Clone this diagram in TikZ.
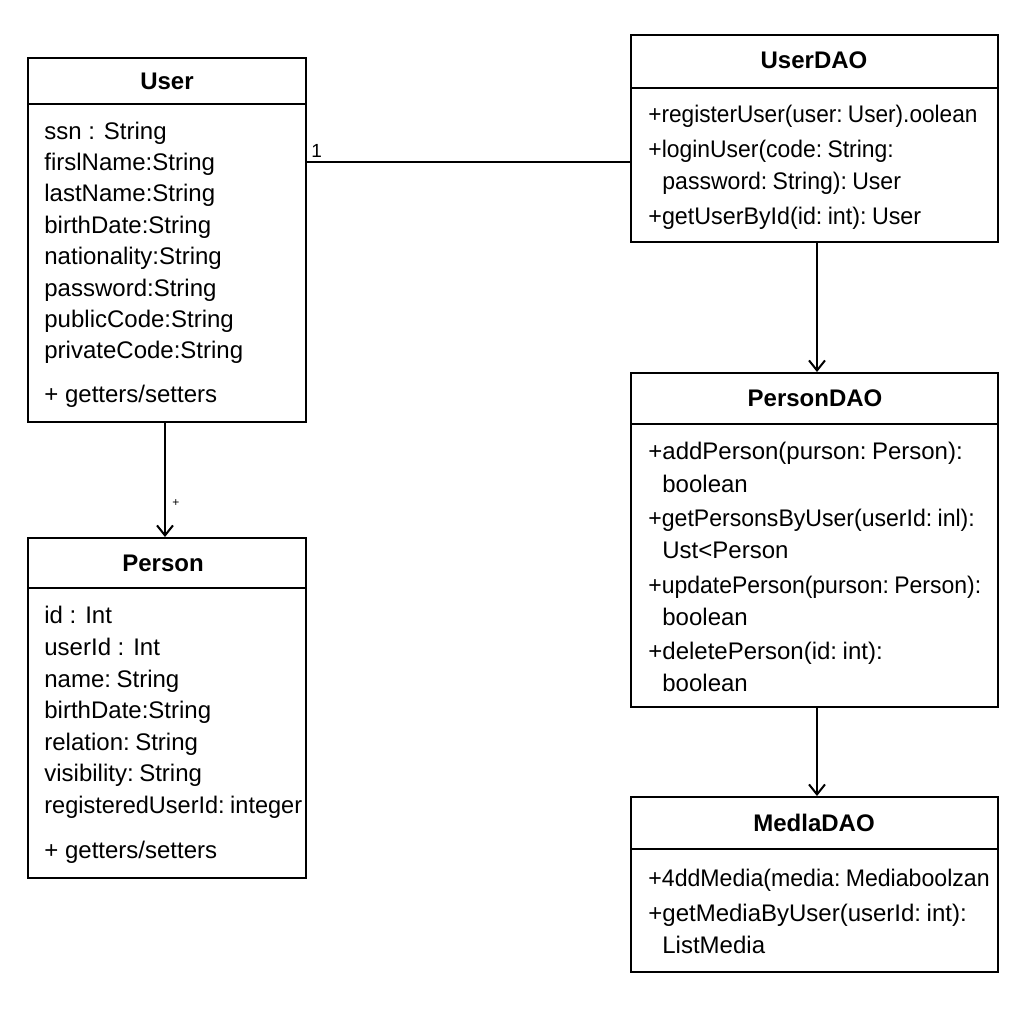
\documentclass[tikz,border=0pt]{standalone}
\usepackage{graphicx}
\usepackage{fontspec}
\setmainfont{Liberation Sans}
% same face with tighter word spaces, for method signatures
\newfontfamily\tightsp{Liberation Sans}[WordSpace=0.5]
\usetikzlibrary{arrows.meta,fit}
% slightly condensed member text
\newcommand\tight[2]{\scalebox{#1}[1]{#2}}
\begin{document}
\begin{tikzpicture}[x=0.5pt,y=-0.5pt,
  classbox/.style={draw,line width=1pt,inner sep=0pt},
  ctitle/.style={anchor=base,font=\fontsize{12}{14}\selectfont\bfseries,inner sep=0pt},
  member/.style={anchor=base west,font=\fontsize{12}{14}\selectfont,inner sep=0pt},
  method/.style={anchor=base west,font=\fontsize{12}{14}\selectfont\tightsp,inner sep=0pt},
  sep/.style={line width=1pt},
  link/.style={line width=1pt},
  assoc/.style={line width=1pt,-{Straight Barb[length=5pt,width=8pt,line width=1pt]}},
  mult/.style={inner sep=0pt}]
\useasboundingbox (0,0) rectangle (1024,1024);

% corner points of the class boxes
\coordinate (userA) at (28,58);    \coordinate (userB) at (306,422);
\coordinate (personA) at (28,538); \coordinate (personB) at (306,878);
\coordinate (udaoA) at (631,35);   \coordinate (udaoB) at (998,242);
\coordinate (pdaoA) at (631,373);  \coordinate (pdaoB) at (998,707);
\coordinate (mdaoA) at (631,797);  \coordinate (mdaoB) at (998,972);

% ---- User ----
\node[classbox,fit=(userA)(userB)] (user) {};
\coordinate (userS) at (0,104);
\draw[sep] (user.west |- userS) -- (user.east |- userS);
\node[ctitle] (userT) at (167,89) {User};
\node[member] (u1) at (44,139) {ssn : String};
\node[member] (u2) at (44,170) {firslName:String};
\node[member] (u3) at (44,201) {lastName:String};
\node[member] (u4) at (44,233) {birthDate:String};
\node[member] (u5) at (44,264) {nationality:String};
\node[member] (u6) at (44,296) {password:String};
\node[member] (u7) at (44,327) {publicCode:String};
\node[member] (u8) at (44,358) {privateCode:String};
\node[member] (u9) at (44,402) {+ getters/setters};

% ---- Person ----
\node[classbox,fit=(personA)(personB)] (person) {};
\coordinate (personS) at (0,588);
\draw[sep] (person.west |- personS) -- (person.east |- personS);
\node[ctitle] (personT) at (163,571) {Person};
\node[member] (p1) at (44,623) {id : Int};
\node[member] (p2) at (44,655) {userId : Int};
\node[method] (p3) at (44,687) {name: String};
\node[member] (p4) at (44,718) {birthDate:String};
\node[method] (p5) at (44,750) {relation: String};
\node[method] (p6) at (44,781) {visibility: String};
\node[method] (p7) at (44,813) {\tight{0.98}{registeredUserId: integer}};
\node[member] (p8) at (44,858) {+ getters/setters};

% ---- UserDAO ----
\node[classbox,fit=(udaoA)(udaoB)] (udao) {};
\coordinate (udaoS) at (0,88);
\draw[sep] (udao.west |- udaoS) -- (udao.east |- udaoS);
\node[ctitle] (udaoT) at (814,68) {UserDAO};
\node[method] (d1) at (648,122) {\tight{0.943}{+registerUser(user: User).oolean}};
\node[method] (d2) at (648,157) {\tight{0.955}{+loginUser(code: String:}};
\node[method] (d3) at (662,189) {\tight{0.96}{password: String): User}};
\node[method] (d4) at (648,224) {\tight{0.97}{+getUserById(id: int): User}};

% ---- PersonDAO ----
\node[classbox,fit=(pdaoA)(pdaoB)] (pdao) {};
\coordinate (pdaoS) at (0,424);
\draw[sep] (pdao.west |- pdaoS) -- (pdao.east |- pdaoS);
\node[ctitle] (pdaoT) at (815,406) {PersonDAO};
\node[method] (e1) at (648,459) {+addPerson(purson: Person):};
\node[method] (e2) at (662,492) {boolean};
\node[method] (e3) at (648,526) {\tight{0.961}{+getPersonsByUser(userId: inl):}};
\node[method] (e4) at (662,558) {Ust<Person};
\node[method] (e5) at (648,593) {\tight{0.957}{+updatePerson(purson: Person):}};
\node[method] (e6) at (662,625) {boolean};
\node[method] (e7) at (648,659) {+deletePerson(id: int):};
\node[method] (e8) at (662,691) {boolean};

% ---- MediaDAO ----
\node[classbox,fit=(mdaoA)(mdaoB)] (mdao) {};
\coordinate (mdaoS) at (0,849);
\draw[sep] (mdao.west |- mdaoS) -- (mdao.east |- mdaoS);
\node[ctitle] (mdaoT) at (814,831) {MedlaDAO};
\node[method] (m1) at (648,886) {\tight{0.963}{+4ddMedia(media: Mediaboolzan}};
\node[method] (m2) at (648,921) {+getMediaByUser(userId: int):};
\node[method] (m3) at (662,953) {ListMedia};

% ---- connectors ----
\coordinate (assocY) at (470,162);
\draw[link] (user.east |- assocY) -- (udao.west |- assocY);
\node[mult,font=\fontsize{9.5}{11}\selectfont,anchor=base west] (one) at (311,157) {1};

\coordinate (upX) at (165,0);
\draw[assoc] (user.south -| upX) -- (person.north -| upX);
\node[mult,font=\fontsize{6}{7}\selectfont] (plus) at (176,503) {+};

\coordinate (daoX) at (817,0);
\draw[assoc] (udao.south -| daoX) -- (pdao.north -| daoX);
\draw[assoc] (pdao.south -| daoX) -- (mdao.north -| daoX);
\end{tikzpicture}
\end{document}
